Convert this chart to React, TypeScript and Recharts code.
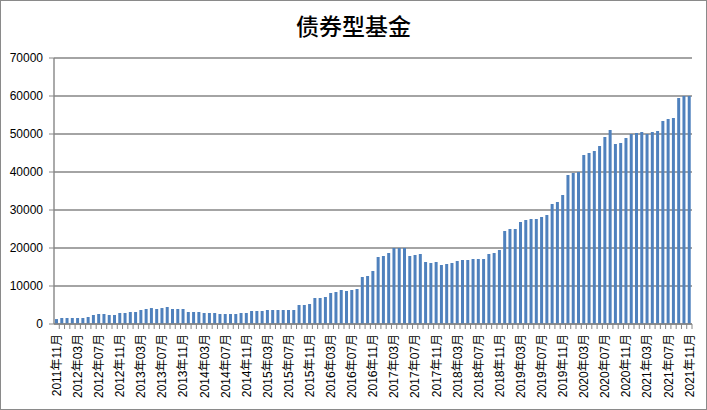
import { BarChart, Bar, XAxis, YAxis, CartesianGrid } from 'recharts';

// 债券型基金 monthly, 2011年11月 .. 2021年11月
const values = [
  1300, 1580, 1580, 1580, 1580, 1580, 1840, 2370, 2630, 2630,
  2370, 2370, 2900, 2900, 3160, 3160, 3680, 3950, 4200, 3950,
  4200, 4470, 3950, 3950, 3950, 3160, 3160, 3160, 2900, 2900,
  2900, 2630, 2630, 2630, 2630, 2900, 2900, 3420, 3420, 3420,
  3680, 3680, 3680, 3680, 3680, 3680, 5000, 5000, 5260, 6840,
  6840, 7100, 8160, 8420, 8950, 8680, 8950, 9210, 12370, 12630,
  13950, 17630, 17900, 18680, 20000, 20000, 20000, 17900, 18160, 18420,
  16320, 16050, 16320, 15530, 15790, 16050, 16580, 16840, 16840, 17100,
  17100, 17100, 18420, 18680, 19470, 24470, 25000, 25000, 26840, 27370,
  27630, 27630, 28160, 28680, 31580, 32100, 33950, 39210, 39740, 40000,
  44470, 45000, 45530, 46840, 49210, 51050, 47370, 47630, 48950, 50000,
  50260, 50530, 50000, 50530, 50790, 53420, 53950, 54210, 59470, 60000,
  60000,
];

const START_YEAR = 2011;
const START_MONTH = 11;
const months = values.map((_, i) => {
  const m = START_MONTH - 1 + i;
  const y = START_YEAR + Math.floor(m / 12);
  const mm = (m % 12) + 1;
  return `${y}年${String(mm).padStart(2, '0')}月`;
});

const tickLabels = [
  '2011年11月', '2012年03月', '2012年07月', '2012年11月', '2013年03月', '2013年07月',
  '2013年11月', '2014年03月', '2014年07月', '2014年11月', '2015年03月', '2015年07月',
  '2015年11月', '2016年03月', '2016年07月', '2016年11月', '2017年03月', '2017年07月',
  '2017年11月', '2018年03月', '2018年07月', '2018年11月', '2019年03月', '2019年07月',
  '2019年11月', '2020年03月', '2020年07月', '2020年11月', '2021年03月', '2021年07月',
  '2021年11月',
];

const yTicks = [0, 10000, 20000, 30000, 40000, 50000, 60000, 70000];

const data = months.map((month, i) => ({ month, value: values[i] }));

const W = 707;
const H = 410;
const Y_AXIS_W = 54;
const MARGIN = { top: 58, right: 15, bottom: 6, left: 0 };
const PLOT_W = W - MARGIN.left - MARGIN.right - Y_AXIS_W;
const BAND = PLOT_W / values.length;
const GRID = '#868686';
const FONT = '"Liberation Sans", Arial, "Noto Sans CJK SC", sans-serif';

function MonthTick(props: any) {
  const { x, y, payload } = props;
  const show = tickLabels.includes(payload.value);
  return (
    <g>
      <line x1={x + BAND / 2} x2={x + BAND / 2} y1={y} y2={y + 5} stroke={GRID} strokeWidth={1} />
      {show && (
        <text
          transform={`translate(${x + 4.3},${y + 10}) rotate(-90)`}
          textAnchor="end"
          fontSize={12}
          fontFamily={FONT}
          fill="#000"
        >
          {payload.value}
        </text>
      )}
    </g>
  );
}

export default function App() {
  return (
    <div style={{ position: 'absolute', left: 0, top: 0, width: W, height: H, background: '#fff' }}>
      <div
        style={{
          position: 'absolute',
          left: 0,
          top: 0,
          width: W,
          height: 50,
          lineHeight: '50px',
          textAlign: 'center',
          fontFamily: '"Noto Sans CJK SC", sans-serif',
          fontSize: 23,
          fontWeight: 500,
          color: '#000',
        }}
      >
        债券型基金
      </div>
      <div style={{ position: 'absolute', left: 0, top: 0 }}>
        <BarChart width={W} height={H} data={data} margin={MARGIN}>
          <CartesianGrid vertical={false} stroke={GRID} strokeWidth={1.4} />
          <XAxis
            dataKey="month"
            interval={0}
            height={80}
            tickSize={0}
            tickMargin={0}
            tickLine={false}
            axisLine={{ stroke: GRID, strokeWidth: 1.4 }}
            tick={<MonthTick />}
          />
          <YAxis
            width={Y_AXIS_W}
            domain={[0, 70000]}
            ticks={yTicks}
            interval={0}
            tickSize={5}
            tickMargin={6}
            tickLine={{ stroke: GRID }}
            axisLine={{ stroke: GRID, strokeWidth: 1.4 }}
            tick={{ fontSize: 12, fill: '#000', fontFamily: FONT }}
          />
          <Bar dataKey="value" fill="#4F81BD" barSize={3} isAnimationActive={false} />
        </BarChart>
      </div>
      <div
        style={{
          position: 'absolute',
          left: 0,
          top: 0,
          width: W,
          height: H,
          boxSizing: 'border-box',
          border: '1px solid #8a8a8a',
          pointerEvents: 'none',
        }}
      />
    </div>
  );
}
